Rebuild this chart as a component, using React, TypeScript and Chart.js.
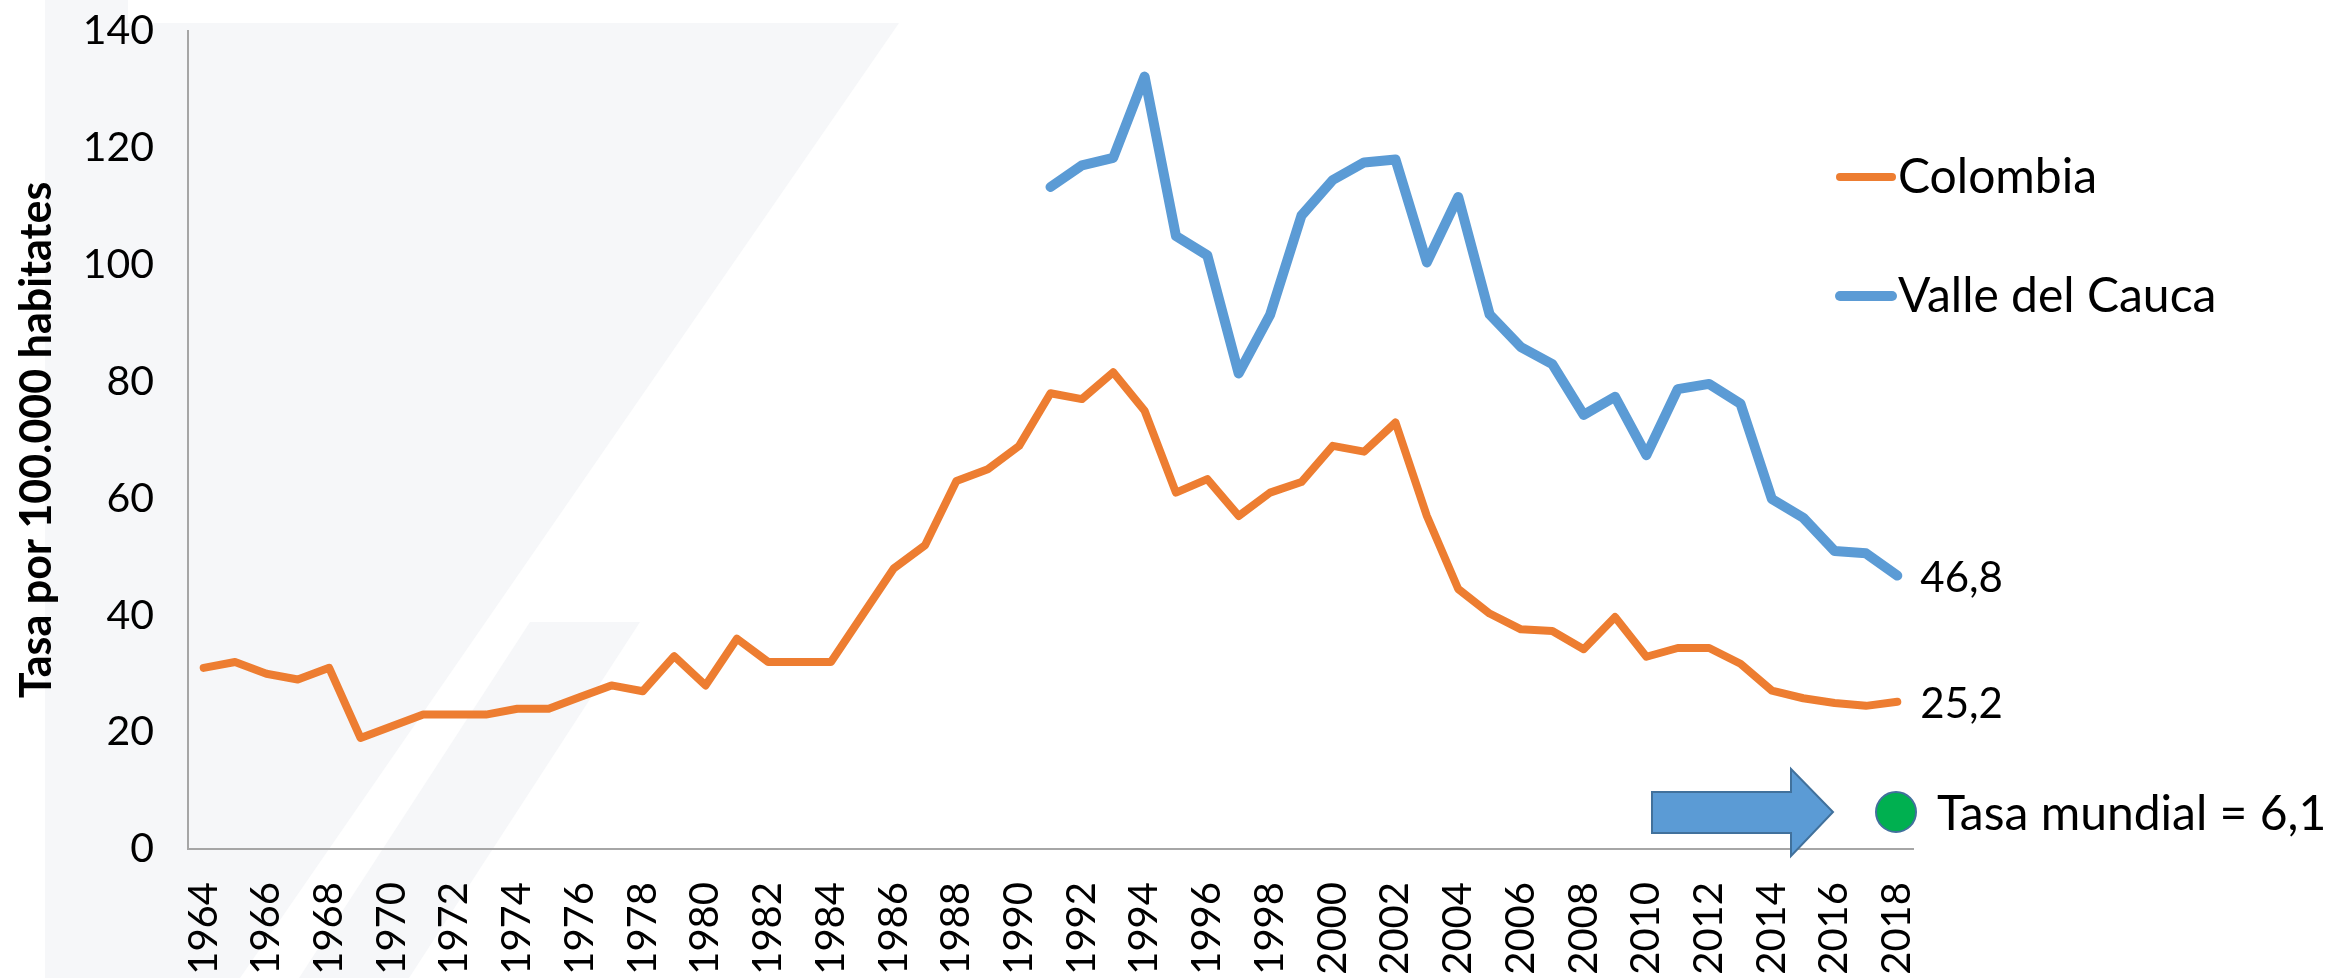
import React, { useEffect, useRef } from "react";
import { Chart, registerables } from "chart.js";

Chart.register(...registerables);

const years = [
  "1964","1965","1966","1967","1968","1969","1970","1971","1972","1973",
  "1974","1975","1976","1977","1978","1979","1980","1981","1982","1983",
  "1984","1985","1986","1987","1988","1989","1990","1991","1992","1993",
  "1994","1995","1996","1997","1998","1999","2000","2001","2002","2003",
  "2004","2005","2006","2007","2008","2009","2010","2011","2012","2013",
  "2014","2015","2016","2017","2018",
];

const colombia = [
  31, 32, 30, 29, 31, 19, 21, 23, 23, 23,
  24, 24, 26, 28, 27, 33, 28, 36, 32, 32,
  32, 40, 48, 52, 63, 65, 69, 78, 77, 81.6,
  75, 61, 63.3, 57, 61, 62.8, 69, 68, 73, 57,
  44.5, 40.3, 37.6, 37.3, 34.2, 39.7, 32.9, 34.4, 34.4, 31.7,
  27.1, 25.8, 25, 24.5, 25.2,
];

const valle = [
  null, null, null, null, null, null, null, null, null, null,
  null, null, null, null, null, null, null, null, null, null,
  null, null, null, null, null, null, null, 113.3, 117, 118.3,
  132.2, 104.9, 101.6, 81.4, 91.4, 108.4, 114.5, 117.5, 118, 100.4,
  111.6, 91.5, 85.9, 83, 74.3, 77.4, 67.4, 78.7, 79.6, 76.2,
  59.9, 56.7, 51, 50.6, 46.8,
];

const seriesNames = ["Colombia", "Valle del Cauca"];
const endLabels = ["25,2", "46,8"];
const worldRateText = "Tasa mundial = 6,1";
const yTitle = "Tasa por 100.000 habitates";

const ORANGE = "#ed7d31";
const BLUE = "#5b9bd5";
const FONT = "Lato, 'Open Sans', sans-serif";

const bgPlugin = {
  id: "bgWatermark",
  beforeDraw(chart: any) {
    const ctx = chart.ctx;
    ctx.save();
    ctx.fillStyle = "#ffffff";
    ctx.fillRect(0, 0, chart.width, chart.height);
    ctx.fillStyle = "#f6f7f9";
    ctx.beginPath();
    ctx.moveTo(45, 0);
    ctx.lineTo(128, 0);
    ctx.lineTo(128, 23);
    ctx.lineTo(899, 23);
    ctx.lineTo(240, 978);
    ctx.lineTo(45, 978);
    ctx.closePath();
    ctx.fill();
    ctx.beginPath();
    ctx.moveTo(530, 622);
    ctx.lineTo(640, 622);
    ctx.lineTo(409, 978);
    ctx.lineTo(299, 978);
    ctx.closePath();
    ctx.fill();
    ctx.restore();
  },
};

const overlayPlugin = {
  id: "overlay",
  afterDraw(chart: any) {
    const ctx = chart.ctx;
    ctx.save();
    // legend
    const legendItems = [
      { name: seriesNames[0], color: ORANGE, y: 177, w: 8 },
      { name: seriesNames[1], color: BLUE, y: 296, w: 10 },
    ];
    ctx.font = `48px ${FONT}`;
    ctx.textAlign = "left";
    ctx.textBaseline = "alphabetic";
    legendItems.forEach((it) => {
      ctx.strokeStyle = it.color;
      ctx.lineWidth = it.w;
      ctx.lineCap = "round";
      ctx.beginPath();
      ctx.moveTo(1840, it.y);
      ctx.lineTo(1892, it.y);
      ctx.stroke();
      ctx.fillStyle = "#000";
      ctx.fillText(it.name, 1898, it.y + 16);
    });

    // end labels
    ctx.font = `42px ${FONT}`;
    [0, 1].forEach((di) => {
      const meta = chart.getDatasetMeta(di);
      const pt = meta.data[meta.data.length - 1];
      if (!pt) return;
      ctx.fillStyle = "#000";
      ctx.fillText(endLabels[di], pt.x + 23, pt.y + 16);
    });

    // arrow
    ctx.beginPath();
    ctx.moveTo(1652, 792);
    ctx.lineTo(1791, 792);
    ctx.lineTo(1791, 769);
    ctx.lineTo(1833, 812);
    ctx.lineTo(1791, 856);
    ctx.lineTo(1791, 833);
    ctx.lineTo(1652, 833);
    ctx.closePath();
    ctx.fillStyle = BLUE;
    ctx.fill();
    ctx.strokeStyle = "#41719c";
    ctx.lineWidth = 2;
    ctx.lineJoin = "miter";
    ctx.stroke();

    // green circle
    ctx.beginPath();
    ctx.arc(1896, 812, 20, 0, Math.PI * 2);
    ctx.fillStyle = "#00b050";
    ctx.fill();
    ctx.strokeStyle = "#41719c";
    ctx.lineWidth = 2;
    ctx.stroke();

    ctx.font = `48px ${FONT}`;
    ctx.fillStyle = "#000";
    ctx.fillText(worldRateText, 1937, 830);
    ctx.restore();
  },
};

export default function App() {
  const ref = useRef<HTMLCanvasElement | null>(null);

  useEffect(() => {
    document.body.style.margin = "0";
    const canvas = ref.current;
    if (!canvas) return;
    const chart = new Chart(canvas, {
      type: "line",
      data: {
        labels: years,
        datasets: [
          {
            label: seriesNames[0],
            data: colombia,
            borderColor: ORANGE,
            backgroundColor: ORANGE,
            borderWidth: 8,
            pointRadius: 0,
            tension: 0,
            borderJoinStyle: "round",
            borderCapStyle: "round",
          },
          {
            label: seriesNames[1],
            data: valle as any,
            borderColor: BLUE,
            backgroundColor: BLUE,
            borderWidth: 10,
            pointRadius: 0,
            tension: 0,
            spanGaps: false,
            borderJoinStyle: "round",
            borderCapStyle: "round",
          },
        ],
      },
      options: {
        animation: false,
        responsive: false,
        devicePixelRatio: 1,
        layout: { padding: { top: 31, right: 431, bottom: 0, left: 0 } },
        plugins: {
          legend: { display: false },
          tooltip: { enabled: false },
        },
        scales: {
          x: {
            type: "category",
            offset: true,
            grid: { display: false, drawTicks: false },
            border: { display: true, color: "#a6a6a6", width: 2 },
            ticks: {
              autoSkip: false,
              minRotation: 90,
              maxRotation: 90,
              padding: 33,
              color: "#000",
              font: { family: FONT, size: 40 },
              callback: (_v: any, i: number) => (i % 2 === 0 ? years[i] : ""),
            },
            afterFit: (s: any) => {
              s.height = 129;
              s.paddingLeft = 0;
              s.paddingRight = 0;
            },
          },
          y: {
            min: 0,
            max: 140,
            grid: { display: false, drawTicks: false },
            border: { display: true, color: "#a6a6a6", width: 2 },
            ticks: {
              stepSize: 20,
              padding: 34,
              color: "#000",
              font: { family: FONT, size: 41 },
            },
            title: {
              display: true,
              text: yTitle,
              color: "#000",
              font: { family: FONT, size: 43, weight: "bold" },
              padding: { top: 11, bottom: 0 },
            },
            afterFit: (s: any) => {
              s.width = 188;
              s.paddingTop = 0;
              s.paddingBottom = 0;
            },
          },
        },
      },
      plugins: [bgPlugin, overlayPlugin],
    });
    return () => chart.destroy();
  }, []);

  return (
    <div style={{ position: "fixed", left: 0, top: 0, width: 2344, height: 978 }}>
      <canvas ref={ref} width={2344} height={978} style={{ width: 2344, height: 978 }} />
    </div>
  );
}
